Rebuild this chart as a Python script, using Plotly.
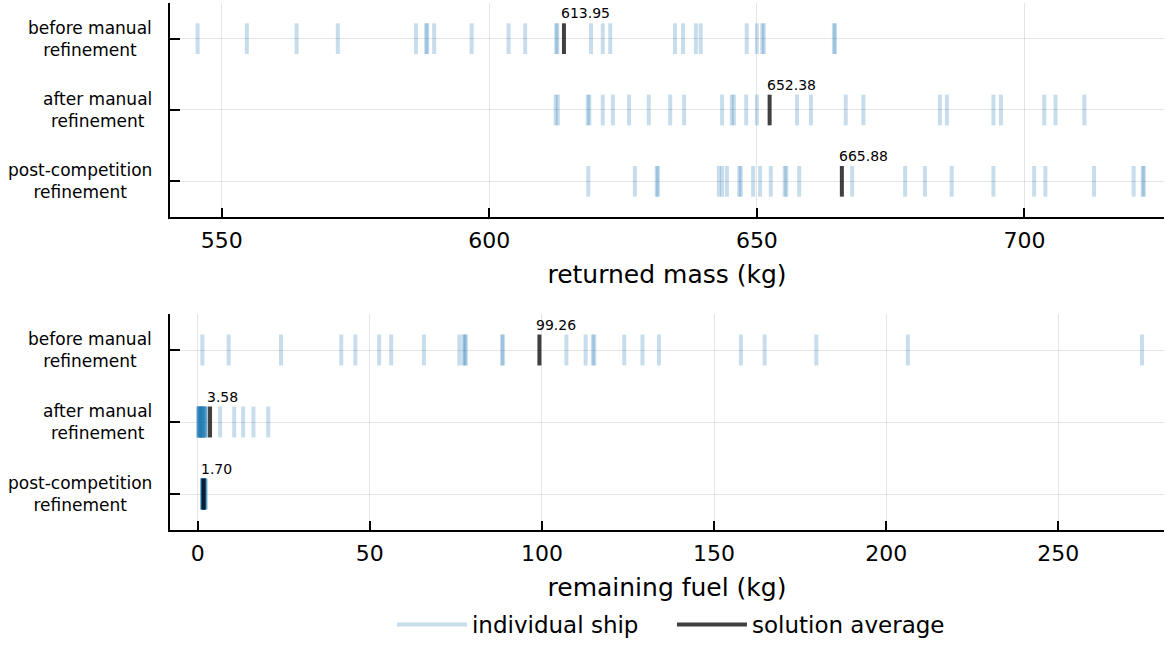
import plotly.graph_objects as go

# ---------------- data ----------------
categories = ["before manual<br>refinement", "after manual<br>refinement", "post-competition<br>refinement"]
row_pos = [0, 1, 2]

mass_before = [545.5, 554.7, 564.0, 571.7, 586.3, 588.2, 588.4, 589.7, 596.7, 603.6, 606.7,
               612.5, 612.7, 619.0, 621.2, 622.6, 634.7, 636.2, 638.6, 639.5, 648.1, 650.0,
               651.0, 651.3, 664.4, 664.6]
mass_after = [612.4, 612.8, 618.4, 618.7, 621.2, 623.1, 626.1, 629.8, 633.8, 636.4, 643.5,
              645.3, 645.7, 648.0, 650.0, 657.5, 660.1, 666.6, 669.9, 684.2, 685.5, 694.2,
              695.6, 703.7, 705.8, 711.2]
mass_post = [618.5, 627.2, 631.3, 631.5, 642.9, 643.5, 644.4, 646.7, 647.0, 649.3, 650.6,
             652.6, 655.2, 655.5, 657.9, 667.8, 677.7, 681.4, 686.4, 694.2, 701.8, 703.9,
             713.0, 720.4, 722.1, 722.3]
mass_avg = [613.95, 652.38, 665.88]

fuel_before = [1.34, 9.0, 24.2, 41.7, 45.8, 52.7, 56.2, 65.7, 76.0, 77.2, 77.6, 77.9, 88.4,
               88.7, 107.1, 112.7, 114.8, 115.2, 123.9, 129.2, 134.0, 157.8, 164.7, 179.7,
               206.3, 274.3]
fuel_after = [0.12, 0.25, 0.31, 0.44, 0.52, 0.60, 0.68, 0.81, 0.93, 1.02, 1.10, 1.21, 1.34,
              1.41, 1.55, 1.63, 1.79, 2.04, 2.18, 2.31, 2.52, 6.5, 10.6, 13.2, 16.2, 20.5]
fuel_post = [1.22, 1.31, 1.38, 1.42, 1.47, 1.50, 1.53, 1.56, 1.58, 1.61, 1.63, 1.65, 1.67,
             1.69, 1.71, 1.74, 1.77, 1.80, 1.83, 1.87, 1.91, 1.96, 2.02, 2.10, 2.21, 2.38]
fuel_avg = [99.26, 3.58, 1.70]

mass_ticks = [550, 600, 650, 700]
fuel_ticks = [0, 50, 100, 150, 200, 250]

# ---------------- style ----------------
FONT = "DejaVu Sans"
SHIP = "rgba(31,119,180,0.25)"
AVG = "rgba(0,0,0,0.75)"
HALF = 0.215
GRID = "rgba(0,0,0,0.1)"

fig = go.Figure()

panels = [
    ("x", "y", [mass_before, mass_after, mass_post], mass_avg),
    ("x2", "y2", [fuel_before, fuel_after, fuel_post], fuel_avg),
]

first_ship = True
for xa, ya, rows, avgs in panels:
    for r, vals in zip(row_pos, rows):
        for v in vals:
            fig.add_trace(go.Scatter(
                x=[v, v], y=[r - HALF, r + HALF], mode="lines",
                line=dict(color=SHIP, width=4), name="individual ship",
                legendgroup="ship", showlegend=first_ship, hoverinfo="skip",
                xaxis=xa, yaxis=ya))
            first_ship = False

first_avg = True
for xa, ya, rows, avgs in panels:
    for r, a in zip(row_pos, avgs):
        fig.add_trace(go.Scatter(
            x=[a, a], y=[r - HALF, r + HALF], mode="lines",
            line=dict(color=AVG, width=4), name="solution average",
            legendgroup="avg", showlegend=first_avg, hoverinfo="skip",
            xaxis=xa, yaxis=ya))
        first_avg = False
        fig.add_annotation(
            x=a, y=r - HALF, xref=xa, yref=ya, text=f"{a:.2f}",
            showarrow=False, xanchor="left", yanchor="bottom",
            xshift=-5, yshift=0, font=dict(family=FONT, size=14, color="black"))

# category labels (centered multi-line, right edge near the axis)
for ya in ["y", "y2"]:
    for r, c in zip(row_pos, categories):
        fig.add_annotation(
            x=0, y=r, xref="paper", yref=ya, text=c, showarrow=False,
            xanchor="right", yanchor="middle", align="center", xshift=-16,
            font=dict(family=FONT, size=17, color="black"))

axis_common = dict(
    showline=True, linecolor="black", linewidth=1.5, mirror=False,
    ticks="inside", tickcolor="black", tickwidth=1.5,
    showgrid=True, gridcolor=GRID, gridwidth=1, zeroline=False,
)

fig.update_layout(
    width=1166, height=646,
    margin=dict(l=170, r=2, t=0, b=0),
    paper_bgcolor="white", plot_bgcolor="white",
    font=dict(family=FONT, color="black"),
    showlegend=True,
    legend=dict(orientation="h", x=0.505, xanchor="center", y=0, yanchor="bottom",
                font=dict(family=FONT, size=23), itemwidth=70, entrywidth=195,
                bgcolor="rgba(0,0,0,0)"),
    xaxis=dict(domain=[0, 1], anchor="y", range=[540.34, 726.07], tickvals=mass_ticks,
               ticklen=9, tickfont=dict(size=22), ticklabelstandoff=3,
               title=dict(text="returned mass (kg)", font=dict(size=25), standoff=13),
               **axis_common),
    yaxis=dict(domain=[0.6641, 0.99536], anchor="x", range=[2.5, -0.5], tickvals=row_pos,
               showticklabels=False, ticklen=10, **axis_common),
    xaxis2=dict(domain=[0, 1], anchor="y2", range=[-8.05, 280.7], tickvals=fuel_ticks,
                ticklen=9, tickfont=dict(size=22), ticklabelstandoff=3,
                title=dict(text="remaining fuel (kg)", font=dict(size=25), standoff=13),
                **axis_common),
    yaxis2=dict(domain=[0.17957, 0.51393], anchor="x2", range=[2.5, -0.5], tickvals=row_pos,
                showticklabels=False, ticklen=10, **axis_common),
)

fig.write_html("out.html")
